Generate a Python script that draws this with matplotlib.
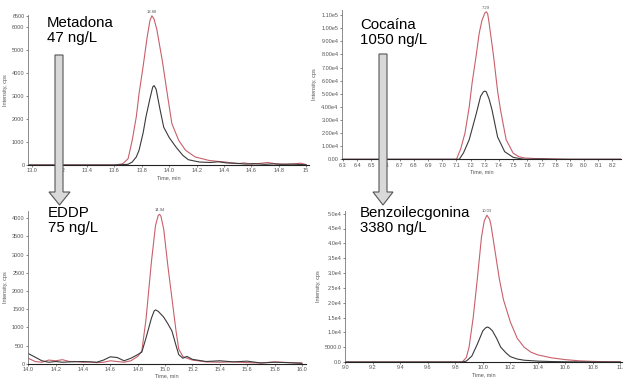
import matplotlib
matplotlib.use("Agg")
import matplotlib.pyplot as plt
from matplotlib.patches import Polygon

plt.rcParams['font.family'] = ['Liberation Sans', 'DejaVu Sans']

# ---------------- data ----------------
# Metadona (top-left)
met_t_red = [12.97, 13.2, 13.4, 13.6, 13.66, 13.70, 13.73, 13.76, 13.78, 13.81, 13.84, 13.86, 13.874, 13.89, 13.91,
             13.95, 13.99, 14.02, 14.07, 14.12, 14.19, 14.29, 14.35, 14.41, 14.5, 14.55, 14.6, 14.65, 14.72, 14.78,
             14.85, 14.9, 14.96, 15.0]
met_red = [0, 0, 0, 0, 50, 275, 1070, 2100, 3100, 4300, 5600, 6300, 6500, 6350, 5900,
           4540, 2950, 1800, 1070, 640, 350, 200, 160, 130, 60, 90, 40, 60, 110, 50,
           30, 40, 80, 20]
met_t_blk = [12.97, 13.2, 13.4, 13.6, 13.70, 13.73, 13.76, 13.78, 13.81, 13.83, 13.86, 13.88, 13.89, 13.905, 13.93,
             13.96, 14.0, 14.05, 14.10, 14.14, 14.22, 14.3, 14.36, 14.42, 14.5, 14.56, 14.62, 14.7, 14.76, 14.82,
             14.9, 14.96, 15.0]
met_blk = [0, 0, 0, 0, 30, 130, 350, 640, 1400, 2080, 2900, 3400, 3460, 3300, 2520,
           1650, 1200, 780, 420, 230, 130, 110, 140, 90, 70, 40, 60, 30, 50, 30,
           40, 20, 10]

# Cocaina (top-right)
coc_t_red = [6.29, 6.8, 7.10, 7.13, 7.16, 7.19, 7.21, 7.24, 7.26, 7.28, 7.30, 7.31, 7.32, 7.33, 7.36, 7.39, 7.41,
             7.45, 7.50, 7.54, 7.58, 7.65, 7.77, 7.9, 8.26]
coc_red = [0, 0, 0, 8000, 20000, 40000, 58000, 80000, 96000, 106000, 111500, 112500, 111000, 104000, 80000, 52000,
           38000, 15000, 4600, 2000, 1000, 600, 300, 0, 0]
coc_t_blk = [6.29, 6.8, 7.12, 7.15, 7.19, 7.24, 7.27, 7.29, 7.30, 7.31, 7.33, 7.35, 7.39, 7.44, 7.50, 7.55, 7.58,
             7.7, 7.8, 8.26]
coc_blk = [0, 0, 0, 5000, 15000, 35000, 48000, 51500, 52000, 51500, 46000, 38000, 17000, 5800, 1500, 500, 0,
           200, 0, 0]

# EDDP (bottom-left)
eddp_t_red = [14.0, 14.05, 14.1, 14.15, 14.2, 14.25, 14.3, 14.35, 14.4, 14.45, 14.5, 14.55, 14.6, 14.65, 14.7,
              14.75, 14.8, 14.83, 14.86, 14.9, 14.93, 14.95, 14.96, 14.97, 14.99, 15.02, 15.05, 15.08, 15.1, 15.13,
              15.16, 15.2, 15.3, 15.4, 15.5, 15.6, 15.7, 15.8, 15.9, 16.0]
eddp_red = [150, 60, 40, 100, 80, 110, 60, 60, 40, 50, 30, 40, 80, 60, 40,
            80, 200, 350, 1200, 2800, 3800, 4080, 4110, 4050, 3700, 2700, 1800, 900, 400, 200,
            150, 100, 50, 40, 50, 30, 20, 50, 30, 20]
eddp_t_blk = [14.0, 14.05, 14.1, 14.15, 14.2, 14.25, 14.3, 14.35, 14.4, 14.45, 14.5, 14.55, 14.6, 14.65, 14.7,
              14.75, 14.8, 14.83, 14.86, 14.9, 14.92, 14.93, 14.95, 14.99, 15.02, 15.05, 15.08, 15.1, 15.13,
              15.16, 15.2, 15.3, 15.4, 15.5, 15.6, 15.7, 15.8, 15.9, 16.0]
eddp_blk = [280, 180, 80, 40, 60, 40, 50, 55, 60, 50, 40, 100, 190, 170, 80,
            150, 250, 320, 700, 1250, 1450, 1480, 1440, 1280, 1100, 900, 500, 250, 150,
            200, 120, 60, 80, 50, 70, 20, 40, 30, 10]

# Benzoilecgonina (bottom-right)
bzc_t_red = [9.0, 9.5, 9.85, 9.88, 9.90, 9.93, 9.96, 9.99, 10.01, 10.03, 10.05, 10.06, 10.09, 10.12, 10.15, 10.2,
             10.25, 10.3, 10.35, 10.4, 10.5, 10.6, 10.7, 10.8, 10.9, 11.0]
bzc_red = [0, 0, 0, 1500, 5000, 15000, 28000, 42000, 47500, 49500, 48000, 46000, 37000, 28000, 21000, 13500,
           8000, 5000, 3300, 2400, 1400, 800, 400, 200, 100, 50]
bzc_t_blk = [9.0, 9.5, 9.85, 9.88, 9.92, 9.96, 10.0, 10.02, 10.035, 10.05, 10.07, 10.1, 10.13, 10.17, 10.2, 10.25,
             10.3, 10.4, 10.5, 10.6, 10.8, 11.0]
bzc_blk = [0, 0, 0, 300, 2000, 6000, 10500, 11500, 11800, 11400, 10500, 8000, 5000, 3000, 1800, 1000,
           600, 300, 150, 80, 20, 0]

names = ["Metadona\n47 ng/L", "Cocaína\n1050 ng/L", "EDDP\n75 ng/L", "Benzoilecgonina\n3380 ng/L"]
peak_labels = ["13.88", "7.29", "14.94", "10.03"]
peak_pos = [(13.874, 6500), (7.31, 112500), (14.96, 4110), (10.03, 49500)]

met_ticks = [13.0, 13.2, 13.4, 13.6, 13.8, 14.0, 14.2, 14.4, 14.6, 14.8, 15.0]
met_ticklabels = ["13.0", "13.2", "13.4", "13.6", "13.8", "14.0", "14.2", "14.4", "14.6", "14.8", "15"]
met_yticks = [0, 1000, 2000, 3000, 4000, 5000, 6000, 6500]
met_yticklabels = ["0", "1000", "2000", "3000", "4000", "5000", "6000", "6500"]

coc_ticks = [6.3 + 0.1 * i for i in range(20)]
coc_ticklabels = ["6.3", "6.4", "6.5", "6.6", "6.7", "6.8", "6.9", "7.0", "7.1", "7.2", "7.3", "7.4", "7.5",
                  "7.6", "7.7", "7.8", "7.9", "8.0", "8.1", "8.2"]
coc_yticks = [0, 10000, 20000, 30000, 40000, 50000, 60000, 70000, 80000, 90000, 100000, 110000]
coc_yticklabels = ["0.00", "1.00e4", "2.00e4", "3.00e4", "4.00e4", "5.00e4", "6.00e4", "7.00e4", "8.00e4",
                   "9.00e4", "1.00e5", "1.10e5"]

eddp_ticks = [14.0, 14.2, 14.4, 14.6, 14.8, 15.0, 15.2, 15.4, 15.6, 15.8, 16.0]
eddp_ticklabels = ["14.0", "14.2", "14.4", "14.6", "14.8", "15.0", "15.2", "15.4", "15.6", "15.8", "16.0"]
eddp_yticks = [0, 500, 1000, 1500, 2000, 2500, 3000, 3500, 4000]
eddp_yticklabels = ["0", "500", "1000", "1500", "2000", "2500", "3000", "3500", "4000"]

bzc_ticks = [9.0, 9.2, 9.4, 9.6, 9.8, 10.0, 10.2, 10.4, 10.6, 10.8, 11.0]
bzc_ticklabels = ["9.0", "9.2", "9.4", "9.6", "9.8", "10.0", "10.2", "10.4", "10.6", "10.8", "11."]
bzc_yticks = [0, 5000, 10000, 15000, 20000, 25000, 30000, 35000, 40000, 45000, 50000]
bzc_yticklabels = ["0.0", "5000.0", "1.0e4", "1.5e4", "2.0e4", "2.5e4", "3.0e4", "3.5e4", "4.0e4", "4.5e4", "5.0e4"]

# ---------------- figure ----------------
W, H = 624, 382
fig = plt.figure(figsize=(W / 100, H / 100), dpi=100)

RED = "#c8606c"
BLK = "#3a3a3a"
TXT = "#555555"


def px_axes(left, top, right, bottom):
    return fig.add_axes([left / W, 1 - bottom / H, (right - left) / W, (bottom - top) / H])


panels = [
    dict(box=(28, 14.6, 308.8, 165), xlim=(12.969, 15.02), ylim=(0, 6550),
         tr=(met_t_red, met_red), tb=(met_t_blk, met_blk),
         xt=met_ticks, xtl=met_ticklabels, yt=met_yticks, ytl=met_yticklabels),
    dict(box=(342, 9.8, 621, 159.3), xlim=(6.293, 8.26), ylim=(0, 114000),
         tr=(coc_t_red, coc_red), tb=(coc_t_blk, coc_blk),
         xt=coc_ticks, xtl=coc_ticklabels, yt=coc_yticks, ytl=coc_yticklabels),
    dict(box=(28, 211, 306, 363.7), xlim=(13.998, 16.03), ylim=(0, 4200),
         tr=(eddp_t_red, eddp_red), tb=(eddp_t_blk, eddp_blk),
         xt=eddp_ticks, xtl=eddp_ticklabels, yt=eddp_yticks, ytl=eddp_yticklabels),
    dict(box=(345.3, 210.7, 622, 362), xlim=(9.0, 11.012), ylim=(0, 51000),
         tr=(bzc_t_red, bzc_red), tb=(bzc_t_blk, bzc_blk),
         xt=bzc_ticks, xtl=bzc_ticklabels, yt=bzc_yticks, ytl=bzc_yticklabels),
]

for i, p in enumerate(panels):
    ax = px_axes(*p["box"])
    ax.plot(p["tr"][0], p["tr"][1], color=RED, lw=0.8)
    ax.plot(p["tb"][0], p["tb"][1], color=BLK, lw=0.8)
    ax.set_xlim(*p["xlim"])
    ax.set_ylim(*p["ylim"])
    ax.set_xticks(p["xt"])
    ax.set_xticklabels(p["xtl"])
    ax.set_yticks(p["yt"])
    ax.set_yticklabels(p["ytl"])
    for s in ("top", "right"):
        ax.spines[s].set_visible(False)
    ax.spines["left"].set_color("#777777")
    ax.spines["left"].set_linewidth(0.6)
    ax.spines["bottom"].set_color("#222222")
    ax.spines["bottom"].set_linewidth(0.8)
    ax.tick_params(axis="both", labelsize=4, colors=TXT, length=1.5, width=0.5, pad=1)
    ax.set_xlabel("Time, min", fontsize=4, color=TXT, labelpad=1)
    ax.set_ylabel("Intensity, cps", fontsize=4, color=TXT, labelpad=3)
    ax.patch.set_alpha(0)
    px, py = peak_pos[i]
    ax.annotate(peak_labels[i], (px, py), xytext=(0, 1.5), textcoords="offset points",
                ha="center", va="bottom", fontsize=3, color=TXT, annotation_clip=False)

# compound labels
label_pos = [(47, 16), (360, 18), (48, 206), (360, 206)]
for (x, y), name in zip(label_pos, names):
    fig.text(x / W, 1 - y / H, name, fontsize=10.8, va="top", ha="left", color="black", linespacing=1.1)


# block arrows
def block_arrow(x0, x1, hx0, hx1, ytop, yhead, ytip):
    cx = (hx0 + hx1) / 2
    pts = [(x0, ytop), (x1, ytop), (x1, yhead), (hx1, yhead), (cx, ytip), (hx0, yhead), (x0, yhead)]
    pts = [(x / W, 1 - y / H) for x, y in pts]
    fig.patches.append(Polygon(pts, closed=True, transform=fig.transFigure,
                               facecolor="#d9d9d9", edgecolor="#555555", lw=0.8, zorder=5))


block_arrow(55, 63, 49, 70, 55, 192, 205)
block_arrow(379, 387, 373, 393, 54, 192, 205)

fig.savefig("out.png", dpi=100)
